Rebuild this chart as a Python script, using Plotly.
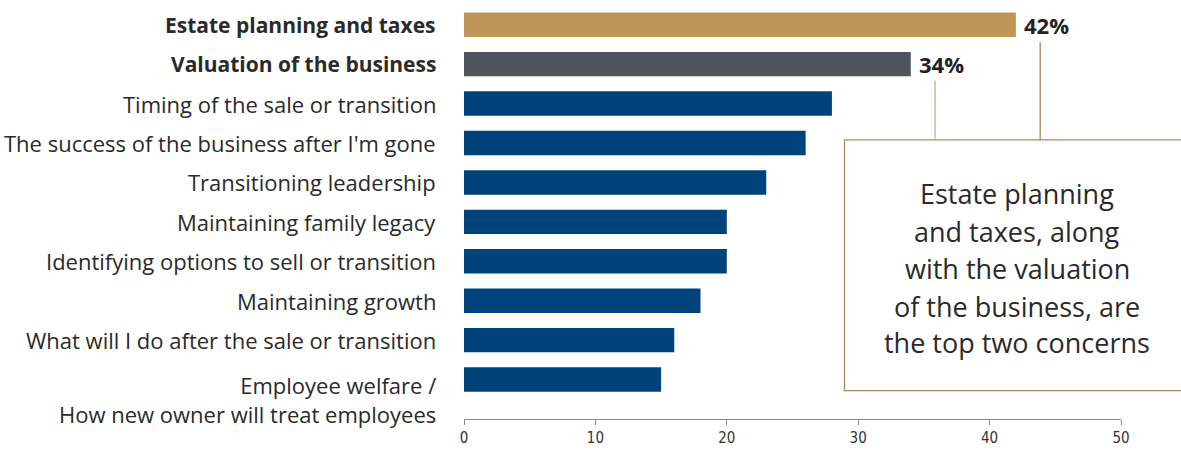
import plotly.graph_objects as go

categories = [
    "Estate planning and taxes",
    "Valuation of the business",
    "Timing of the sale or transition",
    "The success of the business after I'm gone",
    "Transitioning leadership",
    "Maintaining family legacy",
    "Identifying options to sell or transition",
    "Maintaining growth",
    "What will I do after the sale or transition",
    "Employee welfare /<br>How new owner will treat employees",
]
values = [42, 34, 28, 26, 23, 20, 20, 18, 16, 15]
value_labels = ["42%", "34%", "", "", "", "", "", "", "", ""]
bold = [True, True, False, False, False, False, False, False, False, False]
bar_colors = ["#c09658", "#4e535c"] + ["#00437b"] * 8
x_ticks = [0, 10, 20, 30, 40, 50]
callout_lines = [
    "Estate planning",
    "and taxes, along",
    "with the valuation",
    "of the business, are",
    "the top two concerns",
]

FONT = "'Open Sans', 'Noto Sans', sans-serif"
TAN = "#a8875a"

fig = go.Figure(
    go.Bar(
        x=values,
        y=list(range(len(categories))),
        orientation="h",
        marker=dict(color=bar_colors, line=dict(width=0)),
        width=0.62,
        hoverinfo="skip",
    )
)

annotations = []
for i, (c, b) in enumerate(zip(categories, bold)):
    annotations.append(
        dict(
            x=0, y=i, xref="x", yref="y",
            text=f"<b>{c}</b>" if b else c,
            showarrow=False, xanchor="right", yanchor="middle",
            align="right", xshift=-26,
            yshift=-20 if "<br>" in c else 0,
            font=dict(family=FONT, size=21 if b else 22, color="#2a2a2a"),
        )
    )

for i, (v, lab) in enumerate(zip(values, value_labels)):
    if lab:
        annotations.append(
            dict(
                x=v, y=i, xref="x", yref="y", text=f"<b>{lab}</b>",
                showarrow=False, xanchor="left", yanchor="middle", xshift=6,
                font=dict(family=FONT, size=22, color="#222222"),
            )
        )

# callout text lines
plot_h = 422.0
line_y_px = [197, 236, 274, 312, 349]
for t, ypx in zip(callout_lines, line_y_px):
    annotations.append(
        dict(
            x=(1017 - 464) / 657, y=(427 - ypx) / plot_h,
            xref="paper", yref="paper", text=t, showarrow=False,
            xanchor="center", yanchor="middle",
            font=dict(family=FONT, size=27, color="#2a2a2a"),
        )
    )

shapes = [
    dict(type="rect", xref="paper", yref="paper",
         x0=(844.5 - 464) / 657, x1=1.2,
         y0=(427 - 398) / plot_h, y1=(427 - 142.5) / plot_h,
         line=dict(color=TAN, width=1.3), fillcolor="rgba(0,0,0,0)", layer="above"),
    dict(type="line", xref="x", yref="paper",
         x0=values[0] + 1.85, x1=values[0] + 1.85,
         y0=(427 - 142.5) / plot_h, y1=(427 - 43) / plot_h,
         line=dict(color=TAN, width=1.3)),
    dict(type="line", xref="x", yref="paper",
         x0=values[1] + 1.85, x1=values[1] + 1.85,
         y0=(427 - 142.5) / plot_h, y1=(427 - 82) / plot_h,
         line=dict(color="#c4b193", width=1.3)),
]

fig.update_layout(
    width=1181, height=452,
    margin=dict(l=464, r=60, t=5, b=25),
    paper_bgcolor="white", plot_bgcolor="white",
    showlegend=False,
    annotations=annotations,
    shapes=shapes,
    xaxis=dict(
        range=[0, 50], tickvals=x_ticks, ticktext=[str(v) for v in x_ticks],
        showgrid=False, zeroline=False,
        showline=True, linecolor="#8a8a8a", linewidth=1.3,
        ticks="outside", ticklen=5, tickcolor="#8a8a8a", tickwidth=1.3,
        tickfont=dict(family="'DejaVu Sans Condensed', 'Liberation Sans Narrow', sans-serif",
                      size=15, color="#333333"),
        fixedrange=True,
    ),
    yaxis=dict(
        range=[10.0, -0.5], showticklabels=False, showgrid=False,
        zeroline=False, showline=False, ticks="", fixedrange=True,
    ),
)

fig.write_html("out.html")
